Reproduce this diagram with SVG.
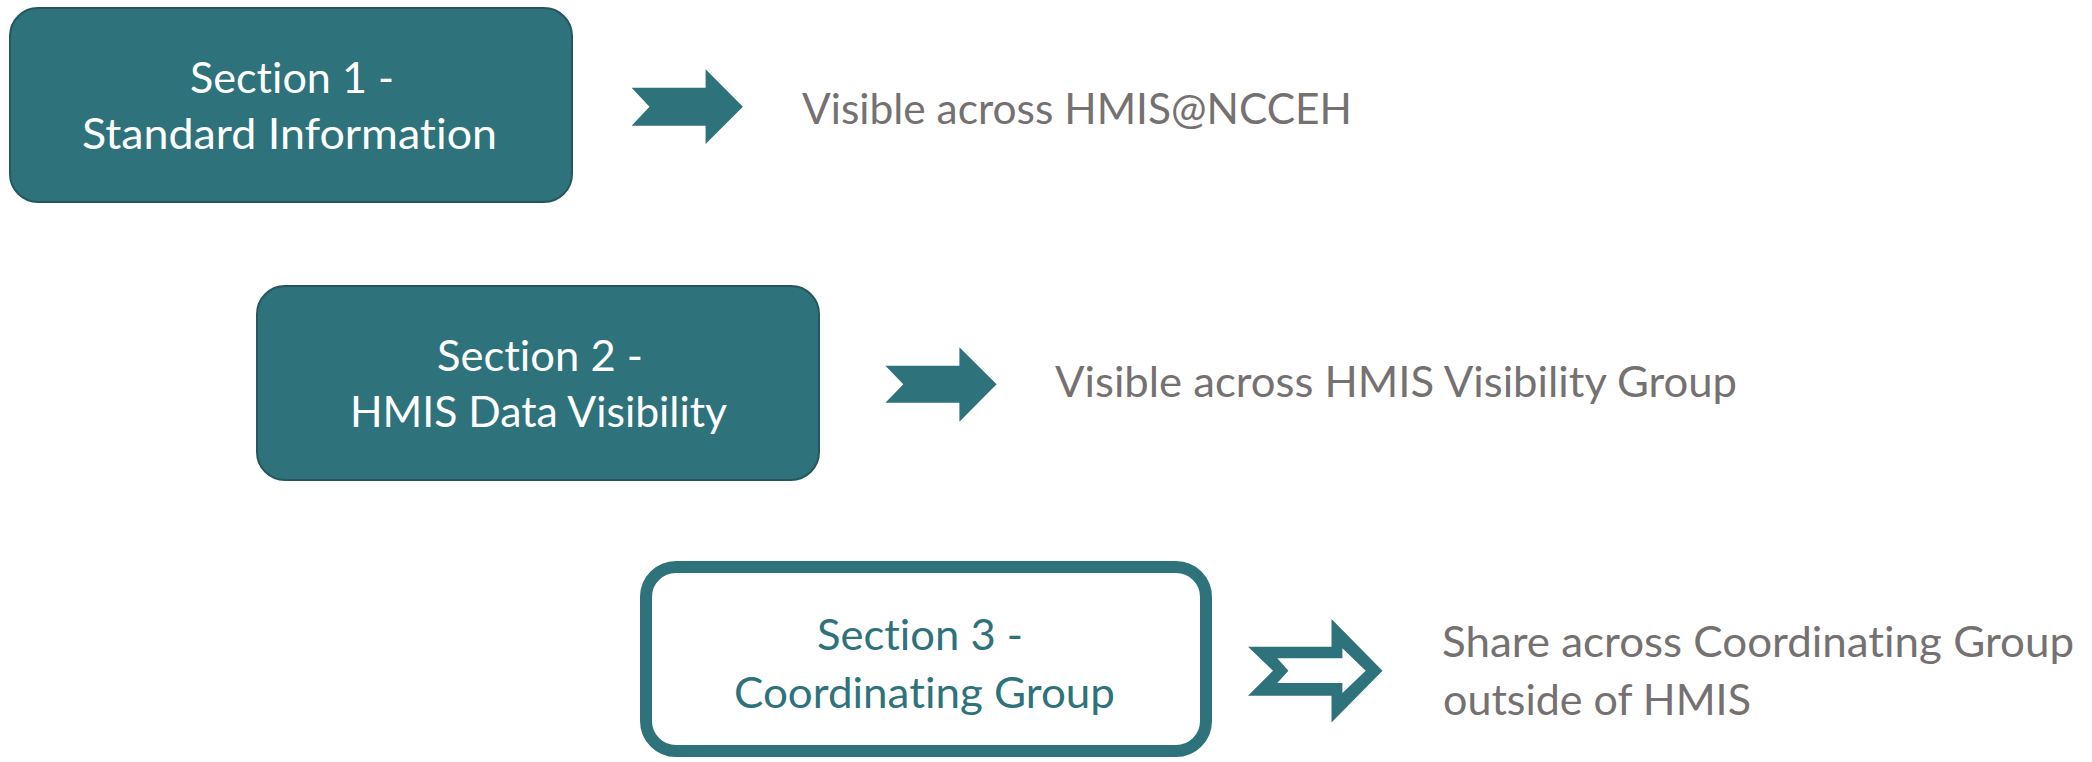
<svg xmlns="http://www.w3.org/2000/svg" width="2092" height="762" viewBox="0 0 2092 762">
<style>
.t{font-family:Lato,"Open Sans","Liberation Sans",sans-serif;font-size:42px;font-variant-ligatures:none}
.w{fill:#ffffff}
.g{fill:#767171}
.c{fill:#2E737B}
.box{fill:#2E737B;stroke:#24585E;stroke-width:2}
.arr{fill:#2E737B}
</style>
<rect width="2092" height="762" fill="#ffffff"/>
<g id="node-section1">
<rect class="box" x="10" y="8" width="562" height="194" rx="28" ry="28"/>
<text class="t w" x="190" y="93" textLength="204" lengthAdjust="spacingAndGlyphs">Section 1 -</text>
<text class="t w" x="82" y="149" textLength="415" lengthAdjust="spacingAndGlyphs">Standard Information</text>
</g>
<g id="node-section2">
<rect class="box" x="257" y="286" width="562" height="194" rx="28" ry="28"/>
<text class="t w" x="437" y="371" textLength="206" lengthAdjust="spacingAndGlyphs">Section 2 -</text>
<text class="t w" x="350" y="427" textLength="377" lengthAdjust="spacingAndGlyphs">HMIS Data Visibility</text>
</g>
<g id="node-section3">
<rect x="646" y="567" width="560" height="184" rx="30" ry="30" fill="#ffffff" stroke="#2E737B" stroke-width="12"/>
<text class="t c" x="817" y="650" textLength="206" lengthAdjust="spacingAndGlyphs">Section 3 -</text>
<text class="t c" x="734" y="708" textLength="381" lengthAdjust="spacingAndGlyphs">Coordinating Group</text>
</g>
<g id="node-label1">
<text class="t g" x="802" y="124" textLength="550" lengthAdjust="spacingAndGlyphs">Visible across HMIS@NCCEH</text>
</g>
<g id="node-label2">
<text class="t g" x="1055" y="397" textLength="682" lengthAdjust="spacingAndGlyphs">Visible across HMIS Visibility Group</text>
</g>
<g id="node-label3">
<text class="t g" x="1442" y="657" textLength="632" lengthAdjust="spacingAndGlyphs">Share across Coordinating Group</text>
<text class="t g" x="1443" y="715" textLength="308" lengthAdjust="spacingAndGlyphs">outside of HMIS</text>
</g>
<g id="connectors">
<path class="arr" d="M631.6,87.7 L705.6,87.7 L705.6,69.3 L742.9,106.7 L705.6,144 L705.6,125.7 L631.6,125.7 L649.5,106.7 Z"/>
<path class="arr" d="M885.4,365.7 L959.4,365.7 L959.4,347.3 L996.6,384.3 L959.4,421.7 L959.4,402.7 L885.4,402.7 L903.3,384.3 Z"/>
<path class="arr" fill-rule="evenodd" d="M1248,646.7 L1331.5,646.7 L1331.5,619 L1382.5,670.7 L1331.5,722.5 L1331.5,695.7 L1248,695.7 L1273,670.7 Z M1277.3,658.3 L1288.4,670.7 L1277.3,683.1 L1342.4,683.1 L1342.4,693.1 L1365.7,670.7 L1342.4,648.3 L1342.4,658.3 Z"/>
</g>
</svg>
